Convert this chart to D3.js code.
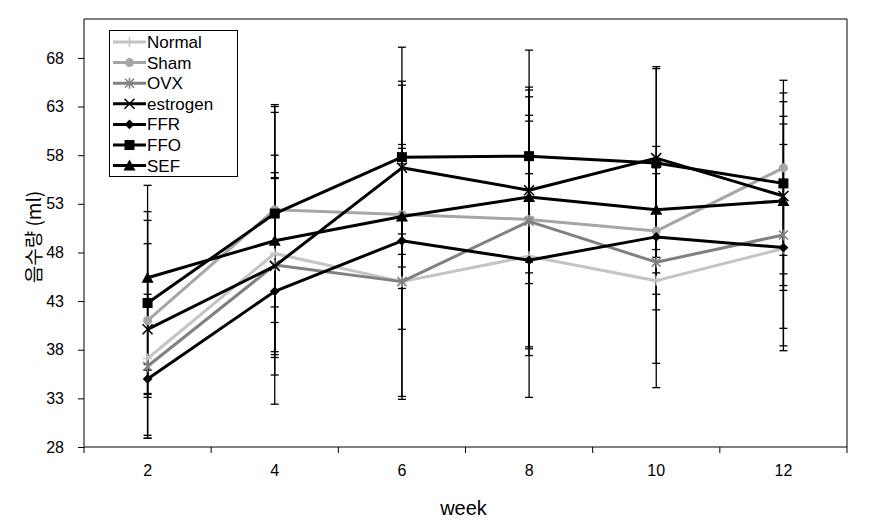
<!DOCTYPE html>
<html>
<head>
<meta charset="utf-8">
<script src="https://cdn.jsdelivr.net/npm/d3@7"></script>
<style>
  html, body { margin: 0; padding: 0; background: #fff; }
  svg { display: block; }
  text { font-family: "Liberation Sans", Arial, sans-serif; fill: #000; }
</style>
</head>
<body>
<svg id="chart" width="869" height="532"></svg>
<script>
// ---- data ----
const weeks = ["2", "4", "6", "8", "10", "12"];
const yTicks = [28, 33, 38, 43, 48, 53, 58, 63, 68];
const seriesNames = ["Normal", "Sham", "OVX", "estrogen", "FFR", "FFO", "SEF"];

const normalVals   = [37.1, 47.9, 45.0, 47.6, 45.1, 48.4];
const shamVals     = [41.0, 52.4, 51.9, 51.4, 50.2, 56.7];
const ovxVals      = [36.3, 46.7, 45.0, 51.2, 47.0, 49.8];
const estrogenVals = [40.1, 46.6, 56.7, 54.4, 57.7, 53.8];
const ffrVals      = [35.0, 44.0, 49.2, 47.2, 49.6, 48.5];
const ffoVals      = [42.8, 52.0, 57.8, 57.9, 57.2, 55.1];
const sefVals      = [45.4, 49.2, 51.7, 53.7, 52.4, 53.3];

const normalErr   = [7.9, 10.1, 12.1, 14.5, 11.0, 8.2];
const shamErr     = [7.9, 10.0, 6.8, 13.3, 6.5, 9.0];
const ovxErr      = [7.4, 9.5, 4.9, 13.8, 10.4, 11.4];
const estrogenErr = [11.2, 9.1, 8.9, 9.6, 9.4, 9.7];
const ffrErr      = [1.5, 11.6, 16.0, 8.9, 7.5, 10.6];
const ffoErr      = [9.4, 11.2, 11.3, 10.9, 9.7, 9.3];
const sefErr      = [9.5, 13.8, 7.4, 7.8, 6.5, 8.7];

const seriesColors = ["#c4c4c4", "#a6a6a6", "#808080", "#000000", "#000000", "#000000", "#000000"];
const seriesMarkers = ["plus", "circle", "asterisk", "x", "diamond", "square", "triangle"];

const series = seriesNames.map((name, i) => ({
  name,
  values: [normalVals, shamVals, ovxVals, estrogenVals, ffrVals, ffoVals, sefVals][i],
  errs: [normalErr, shamErr, ovxErr, estrogenErr, ffrErr, ffoErr, sefErr][i],
  color: seriesColors[i],
  marker: seriesMarkers[i]
}));

// ---- layout ----
const L = 84, R = 847, T = 19, B = 447;
const svg = d3.select("#chart");

const x = d3.scaleBand().domain(weeks).range([L, R]).padding(0);
const y = d3.scaleLinear().domain([28, 72]).range([B, T]);
const cx = w => x(w) + x.bandwidth() / 2;

// frame (top & right)
svg.append("path")
  .attr("d", `M${L},${T}H${R}V${B}`)
  .attr("fill", "none").attr("stroke", "#000").attr("stroke-width", 1);

// y axis
const yAxis = d3.axisLeft(y).tickValues(yTicks).tickSize(6).tickPadding(14);
const gy = svg.append("g").attr("transform", `translate(${L},0)`).call(yAxis);
gy.select(".domain").attr("stroke", "#000").attr("d", `M0,${T}V${B}`);
gy.selectAll(".tick line").attr("stroke", "#000");
gy.selectAll(".tick text").style("font-size", "16px").attr("fill", "#000")
  .attr("font-family", "Liberation Sans, Arial, sans-serif");

// x axis with ticks at band boundaries
const gx = svg.append("g").attr("transform", `translate(0,${B})`);
gx.append("line").attr("x1", L).attr("x2", R).attr("y1", 0).attr("y2", 0).attr("stroke", "#000");
const boundaries = weeks.map(w => x(w)).concat([R]);
gx.selectAll("line.bt").data(boundaries).enter().append("line")
  .attr("class", "bt")
  .attr("x1", d => d).attr("x2", d => d).attr("y1", 0).attr("y2", 6)
  .attr("stroke", "#000");
gx.selectAll("text.xl").data(weeks).enter().append("text")
  .attr("class", "xl")
  .attr("x", d => cx(d)).attr("y", 29)
  .attr("text-anchor", "middle")
  .style("font-size", "16px")
  .text(d => d);

// axis titles
svg.append("text").attr("x", (L + R) / 2 - 2).attr("y", 515)
  .attr("text-anchor", "middle").style("font-size", "20px").text("week");
svg.append("text")
  .attr("transform", `translate(41,${(T + B) / 2 + 4}) rotate(-90)`)
  .attr("text-anchor", "middle")
  .style("font-family", "'Noto Sans CJK KR', sans-serif")
  .style("font-size", "19px")
  .text("음수량 (ml)");

// error bars
const gErr = svg.append("g");
series.forEach(s => {
  s.values.forEach((v, i) => {
    const xc = cx(weeks[i]);
    const hi = Math.min(v + s.errs[i], 72), lo = Math.max(v - s.errs[i], 28);
    gErr.append("line").attr("x1", xc).attr("x2", xc).attr("y1", y(hi)).attr("y2", y(lo))
      .attr("stroke", "#000").attr("stroke-width", 1.3);
    [hi, lo].forEach(e => {
      gErr.append("line").attr("x1", xc - 4).attr("x2", xc + 4).attr("y1", y(e)).attr("y2", y(e))
        .attr("stroke", "#000").attr("stroke-width", 1.3);
    });
  });
});

// marker drawing
function drawMarker(g, type, px, py, color) {
  const sw = 1.5;
  switch (type) {
    case "plus":
      g.append("path").attr("d", `M${px - 5},${py}H${px + 5}M${px},${py - 5}V${py + 5}`)
        .attr("stroke", color).attr("stroke-width", sw).attr("fill", "none");
      break;
    case "circle":
      g.append("circle").attr("cx", px).attr("cy", py).attr("r", 4.5).attr("fill", color);
      break;
    case "asterisk":
      g.append("path").attr("d", `M${px - 4.5},${py - 4.5}L${px + 4.5},${py + 4.5}M${px - 4.5},${py + 4.5}L${px + 4.5},${py - 4.5}M${px},${py - 5.5}V${py + 5.5}`)
        .attr("stroke", color).attr("stroke-width", sw).attr("fill", "none");
      break;
    case "x":
      g.append("path").attr("d", `M${px - 5},${py - 5}L${px + 5},${py + 5}M${px - 5},${py + 5}L${px + 5},${py - 5}`)
        .attr("stroke", color).attr("stroke-width", sw).attr("fill", "none");
      break;
    case "diamond":
      g.append("path").attr("d", d3.symbol(d3.symbolDiamond2, 60)())
        .attr("transform", `translate(${px},${py})`).attr("fill", color);
      break;
    case "square":
      g.append("rect").attr("x", px - 5).attr("y", py - 5).attr("width", 10).attr("height", 10).attr("fill", color);
      break;
    case "triangle":
      g.append("path").attr("d", `M${px},${py - 6}L${px + 6},${py + 5}L${px - 6},${py + 5}Z`).attr("fill", color);
      break;
  }
}

// lines & markers
const line = d3.line().x((d, i) => cx(weeks[i])).y(d => y(d));
series.forEach(s => {
  const g = svg.append("g");
  g.append("path").attr("d", line(s.values)).attr("fill", "none")
    .attr("stroke", s.color).attr("stroke-width", 3).attr("stroke-linejoin", "round");
  s.values.forEach((v, i) => drawMarker(g, s.marker, cx(weeks[i]), y(v), s.color));
});

// legend
const lg = svg.append("g");
const lgX = 109, lgY = 30, lgW = 128, lgH = 146;
lg.append("rect").attr("x", lgX + 0.5).attr("y", lgY + 0.5).attr("width", lgW).attr("height", lgH)
  .attr("fill", "#fff").attr("stroke", "#000").attr("stroke-width", 1);
series.forEach((s, i) => {
  const yy = lgY + 12 + i * 20.6;
  lg.append("line").attr("x1", lgX + 4).attr("x2", lgX + 37).attr("y1", yy).attr("y2", yy)
    .attr("stroke", s.color).attr("stroke-width", 3);
  drawMarker(lg, s.marker, lgX + 20.5, yy, s.color);
  lg.append("text").attr("x", lgX + 38).attr("y", yy + 6).style("font-size", "17px").text(s.name);
});
</script>
</body>
</html>
